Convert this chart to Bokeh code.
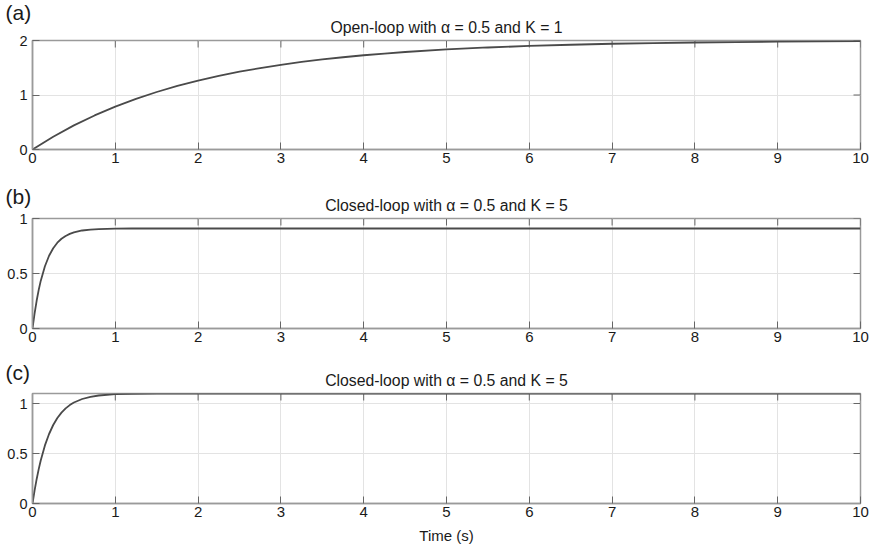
import math
from bokeh.plotting import figure
from bokeh.layouts import column
from bokeh.models import FixedTicker, Title, Range1d
from bokeh.embed import file_html
from bokeh.resources import INLINE

# ---- data ----
x_ticks = [0, 1, 2, 3, 4, 5, 6, 7, 8, 9, 10]

t_a = [0, 0.25, 0.5, 0.75, 1, 1.25, 1.5, 1.75, 2, 2.25, 2.5, 2.75, 3, 3.25,
       3.5, 3.75, 4, 4.25, 4.5, 5, 5.5, 6, 6.5, 7, 7.5, 8, 8.5, 9, 9.5, 10]
y_a = [0, 0.235, 0.442, 0.625, 0.787, 0.929, 1.055, 1.166, 1.264, 1.351,
       1.427, 1.494, 1.554, 1.606, 1.652, 1.693, 1.729, 1.761, 1.789, 1.836,
       1.872, 1.900, 1.922, 1.940, 1.953, 1.963, 1.971, 1.978, 1.983, 1.987]

t_b = [0, 0.025, 0.05, 0.075, 0.1, 0.15, 0.2, 0.25, 0.3, 0.35, 0.4, 0.45,
       0.5, 0.6, 0.7, 0.8, 1.0, 1.2, 1.5, 2, 10]
y_b = [0, 0.136, 0.252, 0.351, 0.435, 0.566, 0.661, 0.730, 0.780, 0.816,
       0.841, 0.860, 0.874, 0.891, 0.899, 0.904, 0.908, 0.909, 0.909, 0.909,
       0.909]

t_c = [0, 0.025, 0.05, 0.075, 0.1, 0.15, 0.2, 0.25, 0.3, 0.35, 0.4, 0.45,
       0.5, 0.6, 0.7, 0.8, 1.0, 1.2, 1.5, 2, 10]
y_c = [0, 0.129, 0.243, 0.344, 0.433, 0.581, 0.695, 0.785, 0.855, 0.909,
       0.951, 0.984, 1.010, 1.045, 1.067, 1.080, 1.093, 1.097, 1.099, 1.100,
       1.100]

titles = ["Open-loop with α = 0.5 and K = 1",
          "Closed-loop with α = 0.5 and K = 5",
          "Closed-loop with α = 0.5 and K = 5"]
tags = ["(a)", "(b)", "(c)"]
y_max = [2, 1, 1.1]
y_ticks = [[0, 1, 2], [0, 0.5, 1], [0, 0.5, 1]]
y_tick_labels = [["0", "1", "2"], ["0", "0.5", "1"], ["0", "0.5", "1"]]
x_label = "Time (s)"

FONT = "Liberation Sans"
TXT = "#1a1a1a"
BORDER = "#9a9a9a"
GRID = "#e3e3e3"
TICK = "#666666"

HEAD_SIZE = 15.8
TAG_SIZE = 21
HEAD_BOX = 1.117 * HEAD_SIZE     # approx. text box height

# (height, top border, bottom border, tag bottom in canvas px, head standoff)
layout_spec = [
    (174, 40, 25, 23, 10),
    (176, 44, 22, 33, 10),
    (197, 43, 44, 33, 10),
]


def style_axis(ax, ticks, labels=None, size="15px", standoff=3):
    ax.ticker = FixedTicker(ticks=ticks)
    ax.major_tick_in = 7
    ax.major_tick_out = 0
    ax.minor_tick_in = 0
    ax.minor_tick_out = 0
    ax.major_tick_line_color = TICK
    ax.major_tick_line_width = 1
    ax.axis_line_color = BORDER
    ax.axis_line_width = 1.5
    ax.major_label_text_font = FONT
    ax.major_label_text_font_size = size
    ax.major_label_text_color = TXT
    ax.major_label_standoff = standoff
    if labels is not None:
        ax.major_label_overrides = {k: v for k, v in zip(ticks, labels)}


figs = []
data = [(t_a, y_a), (t_b, y_b), (t_c, y_c)]
for i in range(3):
    h, tb, bb, tag_bottom, head_standoff = layout_spec[i]
    head_panel = 2 + HEAD_BOX + head_standoff
    tag_panel_bottom = tb - head_panel
    tag_standoff = 2 * (tag_panel_bottom - tag_bottom)
    # outer title: panel tag, flush left (negative standoff lets it overlap)
    tag = Title(text=tags[i], align="left", offset=-27,
                standoff=tag_standoff, text_font=FONT,
                text_font_size=f"{TAG_SIZE}px", text_font_style="normal",
                text_color=TXT)
    p = figure(width=876, height=h, x_range=Range1d(0, 10),
               y_range=Range1d(0, y_max[i]), output_backend="svg",
               toolbar_location=None, min_border_left=32,
               min_border_right=16, min_border_top=tb, min_border_bottom=bb,
               title=tag)
    # inner title: centred subplot heading
    head = Title(text=titles[i], align="center", standoff=head_standoff,
                 text_font=FONT, text_font_size=f"{HEAD_SIZE}px",
                 text_font_style="normal", text_color=TXT)
    p.add_layout(head, "above")

    p.outline_line_color = BORDER
    p.outline_line_width = 1.5
    p.background_fill_color = "white"
    p.border_fill_color = "white"

    xax = p.xaxis[0]
    yax = p.yaxis[0]
    style_axis(xax, x_ticks, size="15px", standoff=3)
    style_axis(yax, y_ticks[i], y_tick_labels[i], size="14.5px", standoff=5)

    p.xgrid.ticker = FixedTicker(ticks=x_ticks)
    p.ygrid.ticker = FixedTicker(ticks=y_ticks[i])
    p.xgrid.grid_line_color = GRID
    p.ygrid.grid_line_color = GRID
    p.xgrid.grid_line_width = 1
    p.ygrid.grid_line_width = 1

    # inward ticks on the top and right edges of the box
    p.ray(x=x_ticks, y=[y_max[i]] * len(x_ticks), length=7,
          length_units="screen", angle=-math.pi / 2, line_color=TICK,
          line_width=1)
    p.ray(x=[10] * len(y_ticks[i]), y=y_ticks[i], length=7,
          length_units="screen", angle=math.pi, line_color=TICK,
          line_width=1)

    t, y = data[i]
    p.line(t, y, line_color="#4a4a4a", line_width=1.8)

    if i == 2:
        xax.axis_label = x_label
        xax.axis_label_text_font = FONT
        xax.axis_label_text_font_size = "15px"
        xax.axis_label_text_font_style = "normal"
        xax.axis_label_text_color = TXT
        xax.axis_label_standoff = 7
    figs.append(p)

lay = column(*figs, spacing=0)
open("out.html", "w").write(file_html(lay, INLINE))
